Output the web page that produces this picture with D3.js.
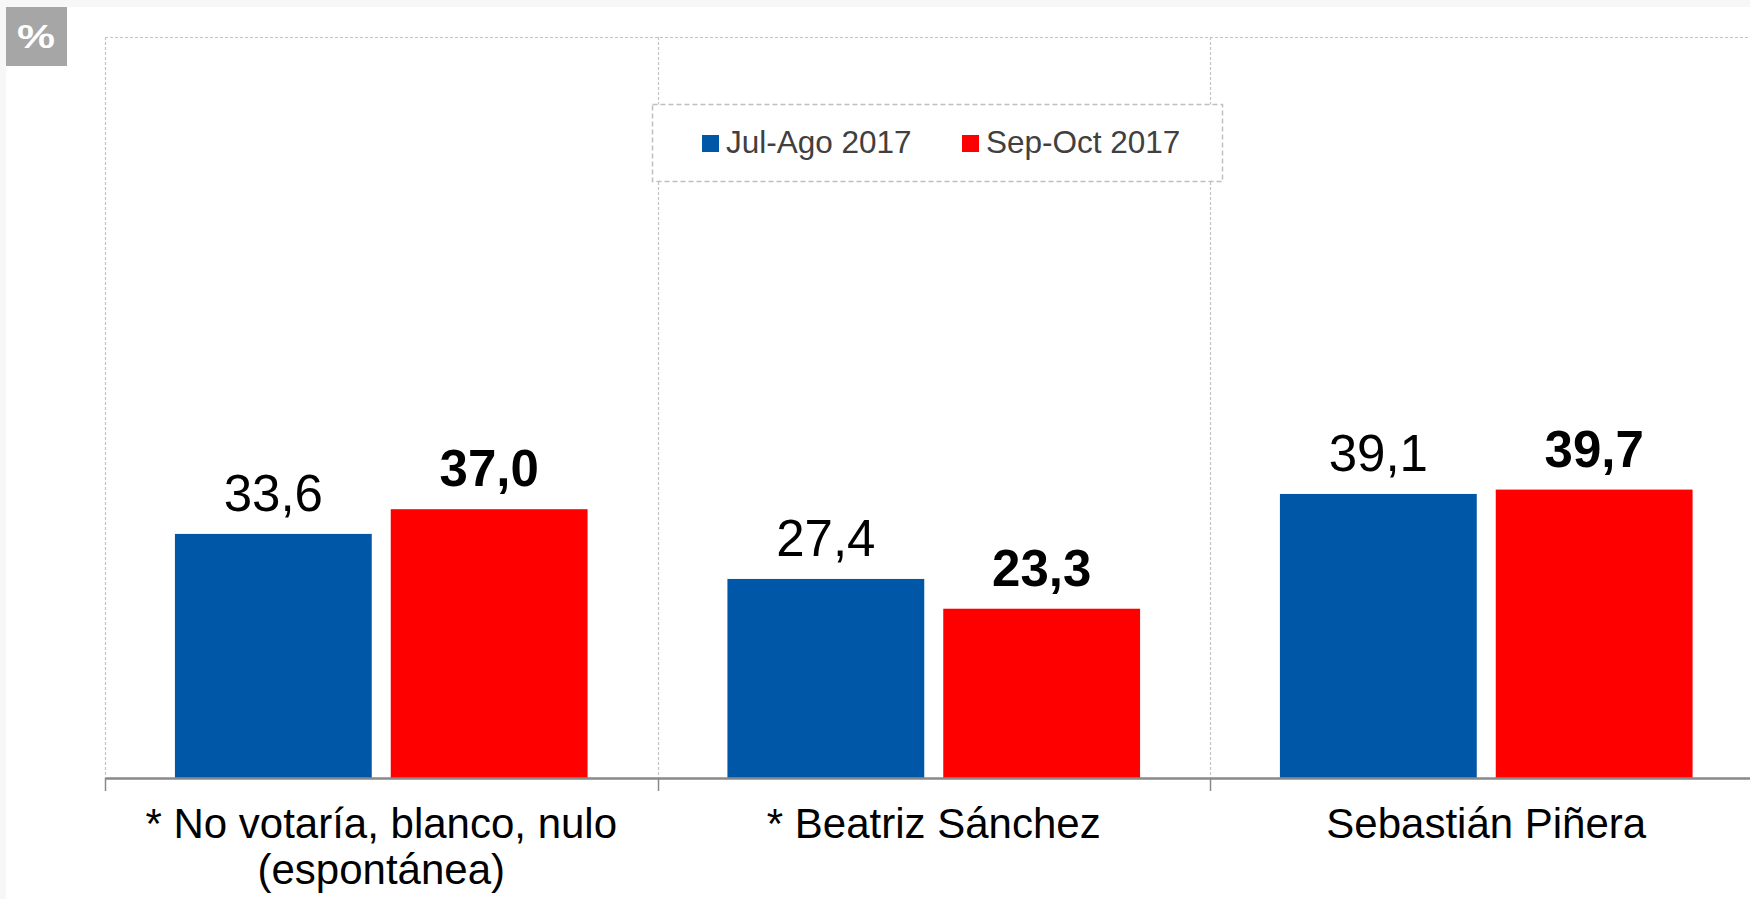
<!DOCTYPE html>
<html>
<head>
<meta charset="utf-8">
<script src="https://cdn.jsdelivr.net/npm/d3@7"></script>
<style>
  html, body { margin: 0; padding: 0; background: #f7f7f7; overflow: hidden; }
  svg { display: block; }
  text { font-family: "Liberation Sans", Arial, sans-serif; }
</style>
</head>
<body>
<svg id="chart" width="1750" height="899"></svg>
<script>
// ---- data ----
const categories = ["* No votaría, blanco, nulo|(espontánea)", "* Beatriz Sánchez", "Sebastián Piñera"];
const seriesNames = ["Jul-Ago 2017", "Sep-Oct 2017"];
const julAgo2017 = [33.6, 27.4, 39.1];
const sepOct2017 = [37.0, 23.3, 39.7];
const seriesColors = ["#0057a7", "#ff0000"];
const yDomain = [0, 102];

const svg = d3.select("#chart");
const W = 1750, H = 899;

// white canvas area with light gray margins
svg.append("rect").attr("x", 6).attr("y", 7).attr("width", W - 6).attr("height", H - 7).attr("fill", "#ffffff");

// % badge
svg.append("rect").attr("x", 6).attr("y", 7).attr("width", 61).attr("height", 59).attr("fill", "#a6a6a6");
svg.append("text").attr("x", 17).attr("y", 48)
  .attr("font-family", "'Open Sans', 'Liberation Sans', sans-serif")
  .attr("font-size", 33).attr("font-weight", "bold").attr("fill", "#ffffff")
  .attr("textLength", 38).attr("lengthAdjust", "spacingAndGlyphs").text("%");

const plot = { left: 105, top: 37, right: 1762.5, bottom: 778 };

const x0 = d3.scaleBand().domain(categories).range([plot.left, plot.right]).padding(0);
const x1 = d3.scaleBand().domain(seriesNames).range([0, x0.bandwidth()])
  .paddingInner(0.088).paddingOuter(0.324);
const y = d3.scaleLinear().domain(yDomain).range([plot.bottom, plot.top]);

// plot area dashed border (top + left) and category separators
const grid = svg.append("g").attr("stroke", "#c4c4c4").attr("stroke-width", 1.2)
  .attr("stroke-dasharray", "3,2").attr("fill", "none");
grid.append("line").attr("x1", plot.left).attr("x2", W).attr("y1", plot.top + 0.5).attr("y2", plot.top + 0.5);
const bounds = categories.map(c => x0(c)).concat([plot.right]);
grid.selectAll("line.sep").data(bounds.filter(b => b < W)).enter().append("line")
  .attr("class", "sep")
  .attr("x1", d => Math.round(d) + 0.5).attr("x2", d => Math.round(d) + 0.5)
  .attr("y1", plot.top).attr("y2", plot.bottom);

// bars
const rows = categories.map((c, i) => ({ cat: c, values: [julAgo2017[i], sepOct2017[i]] }));
const groups = svg.selectAll("g.cat").data(rows).enter().append("g")
  .attr("class", "cat").attr("transform", d => `translate(${x0(d.cat)},0)`);

groups.selectAll("rect").data(d => d.values.map((v, j) => ({ s: seriesNames[j], v, j })))
  .enter().append("rect")
  .attr("x", d => x1(d.s)).attr("width", x1.bandwidth())
  .attr("y", d => y(d.v)).attr("height", d => y(0) - y(d.v))
  .attr("fill", d => seriesColors[d.j]);

const fmt = v => d3.format(".1f")(v).replace(".", ",");
groups.selectAll("text.val").data(d => d.values.map((v, j) => ({ s: seriesNames[j], v, j })))
  .enter().append("text").attr("class", "val")
  .attr("x", d => x1(d.s) + x1.bandwidth() / 2)
  .attr("y", d => y(d.v) - 23)
  .attr("text-anchor", "middle").attr("font-size", 51)
  .attr("font-weight", d => d.j === 1 ? "bold" : "normal")
  .attr("fill", "#000").text(d => fmt(d.v));

// x axis
const xAxis = d3.axisBottom(x0).tickSize(0).tickFormat("");
const axG = svg.append("g").attr("transform", `translate(0,${plot.bottom})`).call(xAxis);
axG.select(".domain").attr("stroke", "#898989").attr("stroke-width", 2.5);
axG.selectAll(".tick").remove();
axG.selectAll("line.tk").data(bounds.filter(b => b < W)).enter().append("line")
  .attr("class", "tk").attr("x1", d => Math.round(d) + 0.5).attr("x2", d => Math.round(d) + 0.5)
  .attr("y1", 0).attr("y2", 13).attr("stroke", "#898989").attr("stroke-width", 1.5);

// category labels
const labG = svg.append("g");
categories.forEach(c => {
  const lines = c.split("|");
  const t = labG.append("text").attr("text-anchor", "middle").attr("font-size", 42).attr("fill", "#000");
  lines.forEach((ln, k) => {
    t.append("tspan").attr("x", x0(c) + x0.bandwidth() / 2).attr("y", 838 + k * 46).text(ln);
  });
});

// legend
const lg = svg.append("g");
lg.append("rect").attr("x", 652.5).attr("y", 104.5).attr("width", 570).attr("height", 77)
  .attr("fill", "#ffffff").attr("stroke", "#bfbfbf").attr("stroke-width", 1.5).attr("stroke-dasharray", "5,3");
const legX = [702, 962];
seriesNames.forEach((s, i) => {
  lg.append("rect").attr("x", legX[i]).attr("y", 135).attr("width", 17).attr("height", 17).attr("fill", seriesColors[i]);
  lg.append("text").attr("x", legX[i] + 24).attr("y", 153).attr("font-size", 31.5).attr("fill", "#404040").text(s);
});
</script>
</body>
</html>
